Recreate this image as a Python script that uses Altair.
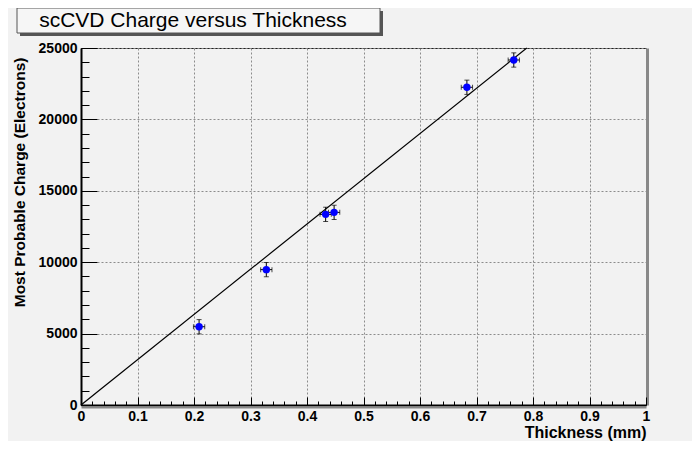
"""scCVD charge versus thickness, ROOT-style plot rebuilt in Altair."""

import altair as alt
import pandas as pd

# measured points
thickness = [0.209, 0.328, 0.433, 0.448, 0.683, 0.766]
charge = [5480, 9480, 13350, 13490, 22250, 24160]
thickness_err = [0.01, 0.01, 0.01, 0.01, 0.01, 0.01]
charge_err = [500, 500, 500, 500, 500, 500]

# straight-line fit through the origin
fit_thickness = [0.0, 0.789]
fit_charge = [0, 25000]

# axis ticks
x_major = [0, 0.1, 0.2, 0.3, 0.4, 0.5, 0.6, 0.7, 0.8, 0.9, 1.0]
x_minor = [i / 50 for i in range(51)]
y_major = [0, 5000, 10000, 15000, 20000, 25000]
y_minor = [i * 1000 for i in range(26)]

chart_title = 'scCVD Charge versus Thickness'
FONT = 'Liberation Sans'
W, H = 565, 357

df = pd.DataFrame({
    'thickness': thickness,
    'charge': charge,
    't_lo': [t - e for t, e in zip(thickness, thickness_err)],
    't_hi': [t + e for t, e in zip(thickness, thickness_err)],
    'c_lo': [c - e for c, e in zip(charge, charge_err)],
    'c_hi': [c + e for c, e in zip(charge, charge_err)],
})
fit = pd.DataFrame({'thickness': fit_thickness, 'charge': fit_charge})

x_scale = alt.Scale(domain=[0, 1], nice=False)
y_scale = alt.Scale(domain=[0, 25000], nice=False)


def tick_axis(orient, values, size):
    # inward ROOT-style ticks: axis pulled into the plot by its own tick length
    return alt.Axis(orient=orient, values=values, offset=-size, tickSize=size,
                    tickColor='black', tickWidth=1, labels=False, domain=False,
                    grid=False, title=None, zindex=1)


main_x = alt.Axis(
    orient='bottom', values=x_major, format='.1~f', grid=True,
    gridDash=[2, 2], gridColor='#8c8c8c', ticks=False, tickSize=0,
    domainColor='black', domainWidth=2, labelFont=FONT, labelFontSize=14,
    labelFontWeight='bold', labelColor='black', labelPadding=4,
    labelFlush=False, labelOverlap=False,
    title='Thickness (mm)', titleFont=FONT, titleFontSize=16,
    titleFontWeight='bold', titleColor='black', titleX=W, titleY=32,
    titleAlign='right', titleBaseline='alphabetic', zindex=0,
)
main_y = alt.Axis(
    orient='left', values=y_major, format='d', grid=True,
    gridDash=[2, 2], gridColor='#8c8c8c', ticks=False, tickSize=0,
    domainColor='black', domainWidth=2, labelFont=FONT, labelFontSize=14,
    labelFontWeight='bold', labelColor='black', labelPadding=4,
    labelFlush=False, labelOverlap=False,
    title='Most Probable Charge (Electrons)', titleFont=FONT,
    titleFontSize=15.5, titleFontWeight='bold', titleColor='black',
    titleX=-62, titleY=9, titleAngle=270, titleAlign='right',
    titleBaseline='middle', zindex=0,
)

line = alt.Chart(fit).mark_line(color='black', strokeWidth=1.2).encode(
    x=alt.X('thickness:Q', scale=x_scale, axis=main_x),
    y=alt.Y('charge:Q', scale=y_scale, axis=main_y),
)

x_err = alt.Chart(df).mark_errorbar(ticks={'size': 5}, color='black').encode(
    x=alt.X('t_lo:Q', scale=x_scale, axis=tick_axis('bottom', x_major, 8)),
    x2='t_hi:Q',
    y=alt.Y('charge:Q', scale=y_scale, axis=tick_axis('left', y_major, 16)),
)

y_err = alt.Chart(df).mark_errorbar(ticks={'size': 5}, color='black').encode(
    x=alt.X('thickness:Q', scale=x_scale,
            axis=alt.Axis(orient='bottom', offset=2, domainColor='#888',
                          domainWidth=2, ticks=False, labels=False,
                          grid=False, title=None)),
    y=alt.Y('c_lo:Q', scale=y_scale,
            axis=alt.Axis(orient='right', offset=1, domainColor='#888',
                          domainWidth=3, ticks=False, labels=False,
                          grid=False, title=None)),
    y2='c_hi:Q',
)

points = alt.Chart(df).mark_circle(size=55, color='#0000ff', opacity=1).encode(
    x=alt.X('thickness:Q', scale=x_scale, axis=tick_axis('bottom', x_minor, 4)),
    y=alt.Y('charge:Q', scale=y_scale, axis=tick_axis('left', y_minor, 8)),
)

# title box in the top-left corner
title_df = pd.DataFrame({'title': [chart_title]})
box_shadow = alt.Chart(title_df).mark_rect(color='#555').encode(
    x=alt.value(-61), x2=alt.value(302), y=alt.value(-37), y2=alt.value(-12),
)
box = alt.Chart(title_df).mark_rect(fill='#f6f6f6', stroke='#555', strokeWidth=1).encode(
    x=alt.value(-64), x2=alt.value(299), y=alt.value(-40), y2=alt.value(-15),
)
box_text = alt.Chart(title_df).mark_text(
    font=FONT, fontSize=21, align='center', baseline='middle', color='black'
).encode(x=alt.value(112), y=alt.value(-27), text='title:N')

chart = (
    alt.layer(line, x_err, y_err, points, box_shadow, box, box_text)
    .resolve_axis(x='independent', y='independent')
    .properties(
        width=W,
        height=H,
        autosize=alt.AutoSizeParams(type='none'),
        padding={'left': 73, 'top': 40, 'right': 46, 'bottom': 36},
        background='#f2f2f2',
    )
    .configure_view(stroke='#222', strokeWidth=1)
)

chart.save('out.html', embed_options={'renderer': 'svg', 'actions': False})
